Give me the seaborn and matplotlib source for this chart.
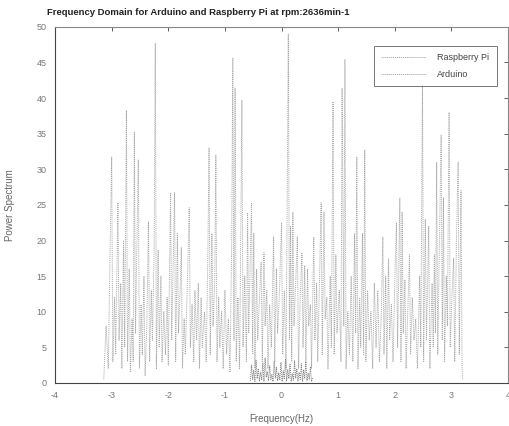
import numpy as np
import pandas as pd
import matplotlib
matplotlib.use("Agg")
import matplotlib.pyplot as plt
import seaborn as sns

# Raspberry Pi spectrum (frequency in Hz, power)
rpi_freq = [-3.14, -3.10, -3.06, -3.03, -3.00, -2.98, -2.95, -2.93, -2.89, -2.87,
            -2.84, -2.82, -2.79, -2.77, -2.74, -2.72, -2.69, -2.67, -2.64, -2.62,
            -2.60, -2.58, -2.55, -2.53, -2.51, -2.48, -2.46, -2.43, -2.41, -2.38,
            -2.35, -2.33, -2.30, -2.28, -2.25, -2.23, -2.21, -2.18, -2.16, -2.13,
            -2.11, -2.08, -2.05, -2.02, -2.00, -1.96, -1.94, -1.91, -1.89, -1.87,
            -1.84, -1.82, -1.79, -1.77, -1.75, -1.72, -1.70, -1.66, -1.63, -1.61,
            -1.58, -1.55, -1.53, -1.50, -1.47, -1.45, -1.42, -1.40, -1.36, -1.33,
            -1.30, -1.28, -1.26, -1.23, -1.21, -1.18, -1.16, -1.14, -1.11, -1.09,
            -1.06, -1.03, -1.00, -0.97, -0.94, -0.91, -0.88, -0.86, -0.84, -0.82,
            -0.80, -0.77, -0.74, -0.70, -0.68, -0.65, -0.62, -0.60, -0.58, -0.55,
            -0.53, -0.51, -0.49, -0.47, -0.44, -0.42, -0.39, -0.36, -0.34, -0.31,
            -0.29, -0.26, -0.24, -0.21, -0.18, -0.14, -0.12, -0.09, -0.07, -0.04,
            0.00, 0.02, 0.05, 0.08, 0.12, 0.14, 0.16, 0.18, 0.20, 0.22,
            0.25, 0.28, 0.30, 0.33, 0.36, 0.38, 0.41, 0.43, 0.46, 0.48,
            0.51, 0.53, 0.57, 0.59, 0.62, 0.64, 0.70, 0.72, 0.75, 0.77,
            0.80, 0.82, 0.86, 0.88, 0.91, 0.93, 0.96, 0.98, 1.02, 1.05,
            1.07, 1.10, 1.12, 1.14, 1.17, 1.20, 1.23, 1.26, 1.29, 1.31,
            1.33, 1.35, 1.38, 1.40, 1.43, 1.45, 1.47, 1.49, 1.52, 1.55,
            1.58, 1.61, 1.64, 1.67, 1.70, 1.73, 1.76, 1.79, 1.81, 1.84,
            1.86, 1.89, 1.91, 1.94, 1.97, 2.00, 2.03, 2.05, 2.09, 2.11,
            2.13, 2.15, 2.18, 2.20, 2.23, 2.26, 2.28, 2.31, 2.34, 2.37,
            2.40, 2.44, 2.46, 2.49, 2.51, 2.54, 2.56, 2.60, 2.62, 2.66,
            2.68, 2.70, 2.72, 2.74, 2.76, 2.79, 2.82, 2.84, 2.86, 2.88,
            2.91, 2.93, 2.96, 2.98, 3.01, 3.04, 3.06, 3.09, 3.12, 3.14,
            3.17, 3.19, 3.20]
rpi_power = [0.5, 8, 2, 18, 31.7, 3, 12, 4, 25.3, 6,
             14, 2, 20, 5, 38.3, 3, 16, 1.5, 9, 3,
             35.2, 7, 22, 31.3, 2, 11, 4, 15, 1, 8,
             22.6, 3, 13, 6, 19, 47.7, 2, 18.7, 5, 15,
             3, 10, 4, 12, 2.5, 26.7, 6, 18, 26.7, 3,
             21, 7, 13, 19, 2, 9, 4, 15, 24.6, 5,
             11, 3, 13, 6, 14, 2, 12, 5, 10, 3,
             19, 33, 4, 21, 8, 14, 32, 3, 12, 5,
             10, 2, 13, 4, 9, 1.5, 20, 45.6, 6, 41.4,
             3, 12, 2, 39.7, 5, 15, 3, 23.9, 7, 18,
             25.3, 4, 21, 2, 16, 6, 12, 17, 3, 18.3,
             8, 13, 2, 11, 5, 20.5, 3, 16, 7, 12,
             22.5, 4, 13, 2, 49, 6, 22, 3, 24, 8,
             14, 20.5, 2, 12, 18.3, 5, 16.5, 3, 16, 8,
             11, 2, 20.5, 6, 14, 3, 25.3, 4, 24, 9,
             12, 2, 15, 5, 39.5, 4, 18, 7, 13, 3,
             41.4, 8, 45.4, 2, 10, 4, 15, 3, 21, 7,
             31.7, 2, 12, 5, 21, 4, 32.7, 3, 13, 6,
             10, 2, 14, 5, 13, 3, 9, 20.5, 4, 15,
             2, 17.5, 6, 11, 3, 14, 22.5, 5, 26, 3,
             24, 7, 14.5, 2, 10, 18, 4, 12, 6, 9,
             2, 15, 5, 42, 3, 23, 6, 22, 2, 14,
             5, 18, 7, 31, 4, 20, 34.8, 6, 26, 3,
             15, 8, 38, 5, 12, 17.5, 3, 20, 31, 4,
             27, 2, 0.5]

# Arduino spectrum
ard_freq = [-0.55, -0.53, -0.51, -0.49, -0.47, -0.45, -0.43, -0.41, -0.39, -0.37,
            -0.35, -0.33, -0.31, -0.29, -0.27, -0.25, -0.23, -0.21, -0.19, -0.17,
            -0.15, -0.13, -0.11, -0.09, -0.07, -0.05, -0.03, -0.01, 0.01, 0.03,
            0.05, 0.07, 0.09, 0.11, 0.13, 0.15, 0.17, 0.19, 0.21, 0.23,
            0.25, 0.27, 0.29, 0.31, 0.33, 0.35, 0.37, 0.39, 0.41, 0.43,
            0.45, 0.47, 0.49, 0.51, 0.53, 0.55]
ard_power = [0.3, 2.5, 0.5, 1.8, 0.2, 3.2, 0.6, 2.0, 0.3, 1.5,
             0.4, 2.8, 0.2, 3.5, 0.8, 1.6, 0.3, 2.4, 0.5, 1.2,
             0.2, 3.0, 0.7, 2.2, 0.3, 1.4, 0.4, 2.9, 0.2, 1.7,
             0.5, 3.3, 0.3, 1.9, 0.6, 2.6, 0.2, 1.3, 0.4, 3.1,
             0.7, 2.0, 0.3, 1.5, 0.5, 2.7, 0.2, 1.8, 0.6, 3.0,
             0.3, 1.4, 0.5, 2.2, 0.2, 0.8]

series_names = ["Raspberry Pi", "Arduino"]
x_ticks = [-4, -3, -2, -1, 0, 1, 2, 3, 4]
y_ticks = [0, 5, 10, 15, 20, 25, 30, 35, 40, 45, 50]

df = pd.concat([
    pd.DataFrame({"Frequency": rpi_freq, "Power": rpi_power, "Series": series_names[0]}),
    pd.DataFrame({"Frequency": ard_freq, "Power": ard_power, "Series": series_names[1]}),
], ignore_index=True)

sns.set_style("white")
plt.rcParams["font.family"] = ["Liberation Sans", "DejaVu Sans"]

fig = plt.figure(figsize=(5.10, 4.26), dpi=100)
ax = fig.add_axes([0.108, 0.101, 0.888, 0.836])

sns.lineplot(data=df, x="Frequency", y="Power", hue="Series",
             palette={"Raspberry Pi": "#a8a8a8", "Arduino": "#808080"},
             estimator=None, sort=False, linewidth=0.7, ax=ax, legend=True)
for line in ax.lines:
    line.set_linestyle((0, (1, 1)))

ax.set_xlim(-4, 4)
ax.set_ylim(0, 50)
ax.set_xticks(x_ticks)
ax.set_xticklabels([str(t) for t in x_ticks])
ax.set_yticks(y_ticks)
ax.set_yticklabels([str(t) for t in y_ticks])
ax.tick_params(axis="both", direction="in", length=3, width=0.6, labelsize=6.5,
               labelcolor="#777777", color="#444444", top=True, right=True, pad=6)

for s in ["left", "bottom"]:
    ax.spines[s].set_color("#444444")
    ax.spines[s].set_linewidth(0.8)
for s in ["top", "right"]:
    ax.spines[s].set_color("#888888")
    ax.spines[s].set_linewidth(0.8)
    ax.spines[s].set_linestyle((0, (1, 1)))

ax.set_xlabel("Frequency(Hz)", fontsize=7, color="#666666", labelpad=10)
ax.set_ylabel("Power Spectrum", fontsize=7, color="#666666", labelpad=16)
fig.text(0.092, 0.970, "Frequency Domain for Arduino and Raspberry Pi at rpm:2636min-1",
         fontsize=6.8, fontweight="bold", color="#222222", ha="left", va="center")

leg = ax.legend(loc="upper right", bbox_to_anchor=(0.985, 0.96), fontsize=6.5,
                frameon=True, fancybox=False, edgecolor="#555555",
                handlelength=5, borderpad=0.8, labelspacing=0.9, handletextpad=1.2)
leg.get_frame().set_linewidth(0.7)
for t in leg.get_texts():
    t.set_color("#444444")
for h in leg.get_lines():
    h.set_linestyle((0, (1, 1)))
    h.set_color("#a0a0a0")

fig.savefig("out.png", dpi=100, facecolor="white")
